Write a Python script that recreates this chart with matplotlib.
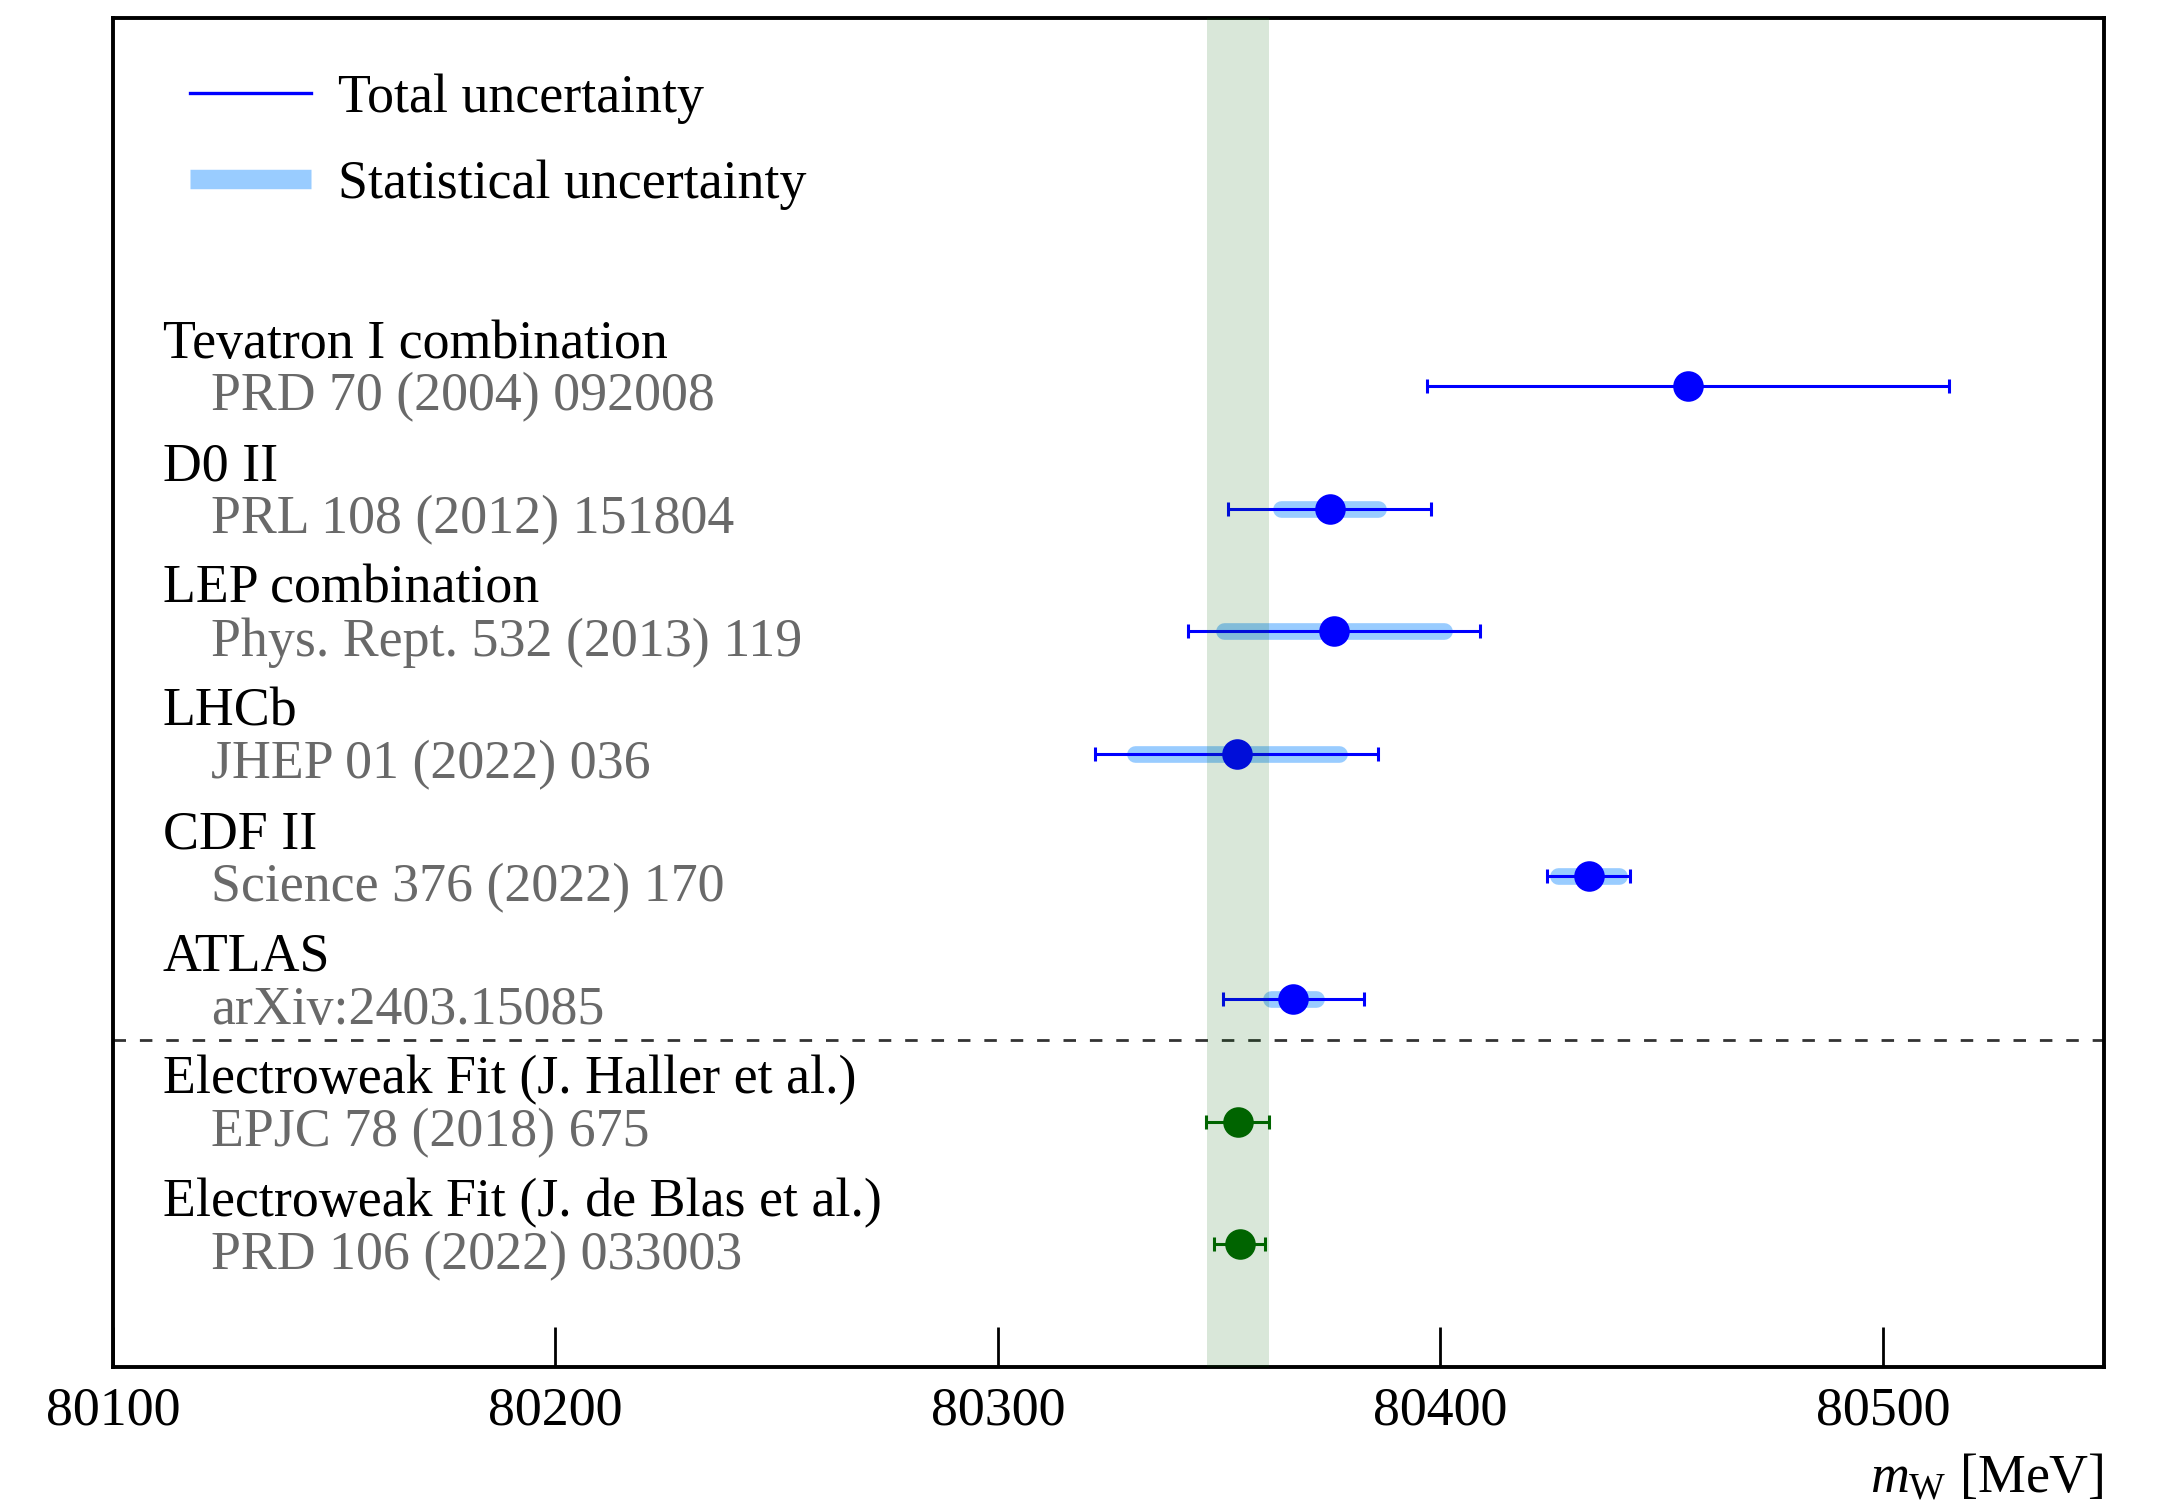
import matplotlib
matplotlib.use("Agg")
import matplotlib.pyplot as plt
from matplotlib.lines import Line2D

plt.rcParams['font.family'] = ['Liberation Serif', 'DejaVu Serif']
plt.rcParams['mathtext.fontset'] = 'custom'
plt.rcParams['mathtext.rm'] = 'Liberation Serif'
plt.rcParams['mathtext.it'] = 'Liberation Serif:italic'

# ---- data ----
names = ["Tevatron I combination", "D0 II", "LEP combination", "LHCb", "CDF II", "ATLAS",
         "Electroweak Fit (J. Haller et al.)", "Electroweak Fit (J. de Blas et al.)"]
refs = ["PRD 70 (2004) 092008", "PRL 108 (2012) 151804", "Phys. Rept. 532 (2013) 119",
        "JHEP 01 (2022) 036", "Science 376 (2022) 170", "arXiv:2403.15085",
        "EPJC 78 (2018) 675", "PRD 106 (2022) 033003"]
meas_vals = [80456.0, 80375.0, 80376.0, 80354.0, 80433.5, 80366.8]
meas_tot = [59.0, 23.0, 33.0, 32.0, 9.4, 15.9]
meas_stat = [None, 11.0, 24.8, 23.0, 6.8, 5.0]
fit_vals = [80354.2, 80354.7]
fit_tot = [7.1, 5.75]
band_center = 80354.2
band_half = 7.0
xticks = [80100, 80200, 80300, 80400, 80500]

FS = 19.4

fig = plt.figure(figsize=(10.805, 7.53), dpi=200)
ax = fig.add_axes([0.05229, 0.09230, 0.92133, 0.89575])

n_meas = len(meas_vals)
y_meas = list(range(n_meas))
y_fit = [n_meas + i for i in range(len(fit_vals))]

# statistical bands
sx = [v for v, s in zip(meas_vals, meas_stat) if s is not None]
sy = [y for y, s in zip(y_meas, meas_stat) if s is not None]
ss = [s for s in meas_stat if s is not None]
eb = ax.errorbar(sx, sy, xerr=ss, fmt='none', ecolor='#99ccff', elinewidth=6.0, zorder=2)
for c in eb[2]:
    c.set_capstyle('round')

# total uncertainties
ax.errorbar(meas_vals, y_meas, xerr=meas_tot, fmt='o', color='blue', ms=10,
            elinewidth=1.1, capsize=2.6, capthick=1.1, zorder=3)
ax.errorbar(fit_vals, y_fit, xerr=fit_tot, fmt='o', color='darkgreen', ms=10,
            elinewidth=1.1, capsize=2.6, capthick=1.1, zorder=3)

# band
ax.axvspan(band_center - band_half, band_center + band_half, color='darkgreen', alpha=0.15,
           lw=0, zorder=5)

# separator
ax.axhline(5.33, color='#333333', lw=1.0, ls=(0, (4.5, 5)), zorder=1)

# labels
all_y = y_meas + y_fit
for y, nm, rf in zip(all_y, names, refs):
    ax.text(80111.2, y - 0.23, nm, fontsize=FS, color='black', va='baseline', ha='left')
    ax.text(80122.1, y + 0.20, rf, fontsize=FS, color='dimgray', va='baseline', ha='left')

ax.set_xlim(80100, 80550)
ax.set_ylim(8.0, -3.0)
ax.set_yticks([])
ax.set_xticks(xticks)
ax.set_xticklabels([str(t) for t in xticks])
ax.tick_params(axis='x', direction='in', length=14.5, width=1.0, labelsize=FS, pad=7,
               top=False)
for sp in ax.spines.values():
    sp.set_linewidth(1.4)

ax.set_xlabel(r"$m_{\mathrm{W}}$ [MeV]", fontsize=FS, loc='right', labelpad=6)

handles = [Line2D([], [], color='blue', lw=1.2),
           Line2D([], [], color='#99ccff', lw=7, solid_capstyle='butt')]
ax.legend(handles, ["Total uncertainty", "Statistical uncertainty"], loc='upper left',
          bbox_to_anchor=(0.0388, 0.959), borderpad=0, borderaxespad=0, frameon=False,
          fontsize=FS, handlelength=2.25, handletextpad=0.5, labelspacing=0.66)

fig.savefig("out.png", dpi=200)
